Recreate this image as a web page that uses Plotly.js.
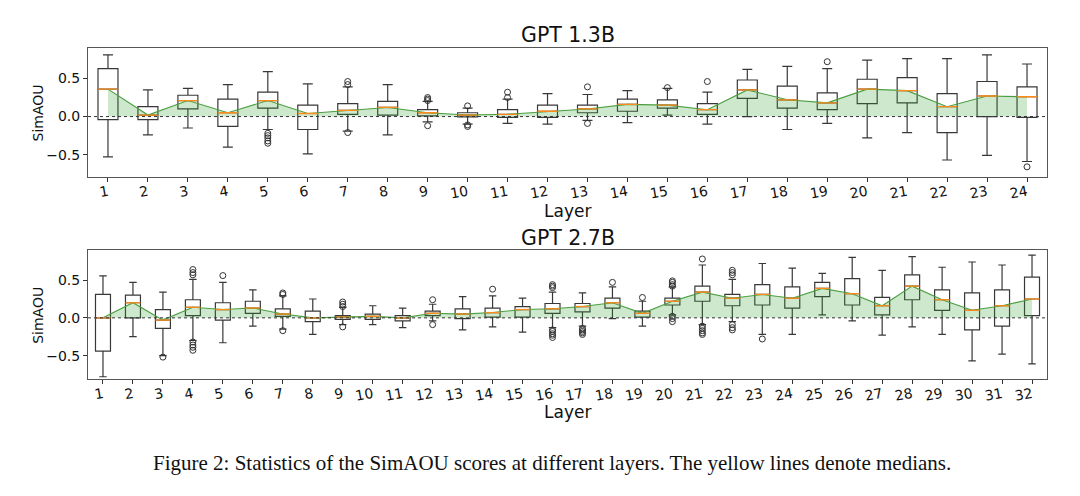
<!DOCTYPE html>
<html>
<head>
<meta charset="utf-8">
<script src="https://cdn.plot.ly/plotly-3.0.1.min.js"></script>
<style>
html,body{margin:0;padding:0;background:#fff;}
#chart{width:1080px;height:496px;}
</style>
</head>
<body>
<div id="chart"></div>
<script>
// ---------- GPT 1.3B (24 layers) ----------
const topLayers = [1,2,3,4,5,6,7,8,9,10,11,12,13,14,15,16,17,18,19,20,21,22,23,24];
const topLow  = [-0.53,-0.24,-0.15,-0.40,-0.17,-0.49,-0.19,-0.24,-0.07,-0.10,-0.09,-0.10,-0.05,-0.08,0.02,-0.10,0.00,-0.17,-0.09,-0.28,-0.21,-0.57,-0.51,-0.59];
const topQ1   = [-0.04,-0.04,0.10,-0.13,0.11,-0.17,0.03,0.02,0.01,-0.005,-0.01,-0.01,0.05,0.07,0.11,0.03,0.24,0.11,0.09,0.17,0.18,-0.21,0.00,-0.01];
const topMed  = [0.36,0.02,0.21,0.05,0.21,0.04,0.08,0.12,0.05,0.02,0.03,0.07,0.10,0.16,0.15,0.09,0.35,0.22,0.18,0.36,0.34,0.13,0.27,0.26];
const topQ3   = [0.63,0.13,0.28,0.23,0.32,0.15,0.17,0.20,0.09,0.05,0.09,0.15,0.15,0.23,0.22,0.17,0.48,0.40,0.31,0.49,0.51,0.30,0.46,0.39];
const topHigh = [0.81,0.35,0.37,0.42,0.59,0.43,0.39,0.42,0.20,0.11,0.23,0.30,0.29,0.34,0.37,0.32,0.62,0.66,0.63,0.74,0.76,0.76,0.81,0.69];
const topOutX = [5,5,5,5,5, 7,7,7, 9,9,9,9, 10,10,10, 11,11, 13,13, 15, 16, 19, 24];
const topOutY = [-0.22,-0.25,-0.28,-0.32,-0.35, 0.46,0.42,-0.21, 0.25,0.23,0.21,-0.12, 0.14,-0.11,-0.13, 0.32,0.25, 0.39,-0.09, 0.38, 0.46, 0.72, -0.66];
const topTickText = ["1","2","3","4","5","6","7","8","9","10","11","12","13","14","15","16","17","18","19","20","21","22","23","24"];

// ---------- GPT 2.7B (32 layers) ----------
const botLayers = [1,2,3,4,5,6,7,8,9,10,11,12,13,14,15,16,17,18,19,20,21,22,23,24,25,26,27,28,29,30,31,32];
const botLow  = [-0.78,-0.25,-0.50,-0.30,-0.33,-0.11,-0.15,-0.22,-0.09,-0.09,-0.13,-0.04,-0.16,-0.12,-0.19,-0.13,-0.11,-0.01,-0.11,0.04,-0.09,-0.05,-0.22,-0.22,0.04,-0.04,-0.23,-0.12,-0.22,-0.57,-0.48,-0.61];
const botQ1   = [-0.44,0.00,-0.14,0.03,-0.03,0.06,0.02,-0.05,-0.02,-0.02,-0.04,0.03,-0.01,0.01,0.01,0.06,0.08,0.13,0.01,0.17,0.22,0.16,0.17,0.13,0.28,0.17,0.04,0.24,0.10,-0.16,-0.11,0.03];
const botMed  = [0.00,0.20,-0.03,0.14,0.11,0.13,0.05,0.00,0.01,0.02,0.00,0.06,0.05,0.07,0.11,0.12,0.15,0.20,0.06,0.22,0.34,0.26,0.31,0.26,0.39,0.32,0.16,0.42,0.24,0.10,0.16,0.25];
const botQ3   = [0.31,0.30,0.11,0.24,0.20,0.22,0.12,0.09,0.03,0.05,0.03,0.09,0.12,0.13,0.15,0.19,0.19,0.26,0.09,0.26,0.42,0.31,0.44,0.41,0.47,0.52,0.27,0.57,0.37,0.33,0.37,0.54];
const botHigh = [0.555,0.47,0.34,0.51,0.47,0.37,0.29,0.25,0.14,0.16,0.13,0.18,0.28,0.29,0.26,0.34,0.33,0.41,0.22,0.41,0.70,0.51,0.72,0.66,0.59,0.80,0.63,0.81,0.67,0.74,0.70,0.83];
const botOutX = [3, 4,4,4,4,4,4,4, 5, 7,7,7, 9,9,9,9, 12,12, 14, 16,16,16,16,16,16,16,16, 17,17,17,17,17, 18, 19, 20,20,20,20,20,20,20, 21,21,21,21,21,21, 22,22,22,22,22,22, 23];
const botOutY = [-0.52, 0.64,0.60,0.57,-0.32,-0.36,-0.39,-0.43, 0.56, 0.33,0.31,-0.17, 0.21,0.18,0.15,-0.12, 0.24,-0.09, 0.38, 0.44,0.42,0.40,-0.16,-0.18,-0.21,-0.23,-0.26, -0.14,-0.16,-0.18,-0.20,-0.22, 0.47, 0.27, 0.49,0.47,0.44,0.42,0.02,-0.01,-0.05, 0.78,-0.11,-0.14,-0.17,-0.20,-0.22, 0.63,0.60,0.57,-0.09,-0.13,-0.16, -0.28];
const botTickText = botLayers.map(String);

const yTickVals = [-0.5, 0, 0.5];
const yTickText = ["\u22120.5", "0.0", "0.5"];

const panelTitles = ["GPT 1.3B", "GPT 2.7B"];
const xLabel = "Layer";
const yLabel = "SimAOU";
const caption = "Figure 2: Statistics of the SimAOU scores at different layers. The yellow lines denote medians.";

// ---------- build ----------
const BOXW = 0.5;
function medianSegments(xs, meds) {
  const x = [], y = [];
  xs.forEach((v, i) => { x.push(v - BOXW / 2, v + BOXW / 2, null); y.push(meds[i], meds[i], null); });
  return {x, y};
}
function panelTraces(xs, lo, q1, med, q3, hi, ox, oy, xa, ya) {
  const seg = medianSegments(xs, med);
  return [
    {type: 'scatter', mode: 'lines', x: xs, y: med, xaxis: xa, yaxis: ya,
     fill: 'tozeroy', fillcolor: 'rgba(44,160,44,0.24)',
     line: {color: '#4a9e3f', width: 1.1}, hoverinfo: 'skip', showlegend: false},
    {type: 'box', x: xs, q1: q1, median: med, q3: q3, lowerfence: lo, upperfence: hi,
     xaxis: xa, yaxis: ya, width: BOXW, whiskerwidth: 0.5, boxpoints: false,
     fillcolor: 'rgba(0,0,0,0)', line: {color: '#383838', width: 1.2}, showlegend: false},
    {type: 'scatter', mode: 'lines', x: seg.x, y: seg.y, xaxis: xa, yaxis: ya,
     line: {color: '#ff8c1a', width: 1.3}, hoverinfo: 'skip', showlegend: false, connectgaps: false},
    {type: 'scatter', mode: 'markers', x: ox, y: oy, xaxis: xa, yaxis: ya,
     marker: {symbol: 'circle-open', size: 6, color: '#333', line: {width: 1, color: '#333'}},
     hoverinfo: 'skip', showlegend: false}
  ];
}

const data = [].concat(
  panelTraces(topLayers, topLow, topQ1, topMed, topQ3, topHigh, topOutX, topOutY, 'x', 'y'),
  panelTraces(botLayers, botLow, botQ1, botMed, botQ3, botHigh, botOutX, botOutY, 'x2', 'y2')
);

const axisCommon = {
  showgrid: false, zeroline: false, showline: true, mirror: true,
  linecolor: '#555', linewidth: 1, ticks: 'outside', ticklen: 4, tickcolor: '#333',
  tickfont: {family: 'DejaVu Sans', size: 14, color: '#111'}
};

const layout = {
  width: 1080, height: 496,
  margin: {l: 88, r: 33, t: 48, b: 117},
  paper_bgcolor: '#fff', plot_bgcolor: '#fff',
  font: {family: 'DejaVu Sans', color: '#111'},
  showlegend: false,
  xaxis: Object.assign({}, axisCommon, {domain: [0, 1], anchor: 'y', range: [0.5, 24.5],
    tickmode: 'array', tickvals: topLayers, ticktext: topTickText, tickangle: -10, ticklabelstandoff: -3}),
  yaxis: Object.assign({}, axisCommon, {domain: [0.611, 1], anchor: 'x', range: [-0.79, 0.90],
    tickmode: 'array', tickvals: yTickVals, ticktext: yTickText}),
  xaxis2: Object.assign({}, axisCommon, {domain: [0, 1], anchor: 'y2', range: [0.5, 32.5],
    tickmode: 'array', tickvals: botLayers, ticktext: botTickText, tickangle: -10, ticklabelstandoff: -3}),
  yaxis2: Object.assign({}, axisCommon, {domain: [0, 0.39], anchor: 'x2', range: [-0.81, 0.90],
    tickmode: 'array', tickvals: yTickVals, ticktext: yTickText}),
  shapes: [
    {type: 'line', xref: 'x domain', yref: 'y', x0: 0, x1: 1, y0: 0, y1: 0,
     line: {color: '#333', width: 1, dash: 'dot'}, layer: 'above'},
    {type: 'line', xref: 'x2 domain', yref: 'y2', x0: 0, x1: 1, y0: 0, y1: 0,
     line: {color: '#333', width: 1, dash: 'dot'}, layer: 'above'}
  ],
  annotations: [
    {text: panelTitles[0], xref: 'paper', yref: 'paper', x: 0.5, y: 1.0393, showarrow: false,
     xanchor: 'center', yanchor: 'middle', font: {family: 'DejaVu Sans', size: 20.5, color: '#111'}},
    {text: panelTitles[1], xref: 'paper', yref: 'paper', x: 0.5, y: 0.426, showarrow: false,
     xanchor: 'center', yanchor: 'middle', font: {family: 'DejaVu Sans', size: 20.5, color: '#111'}},
    {text: xLabel, xref: 'paper', yref: 'paper', x: 0.5, y: 0.508, showarrow: false,
     xanchor: 'center', yanchor: 'middle', font: {family: 'DejaVu Sans', size: 17, color: '#111'}},
    {text: xLabel, xref: 'paper', yref: 'paper', x: 0.5, y: -0.0988, showarrow: false,
     xanchor: 'center', yanchor: 'middle', font: {family: 'DejaVu Sans', size: 17, color: '#111'}},
    {text: yLabel, xref: 'paper', yref: 'paper', x: -0.0524, y: 0.8045, showarrow: false, textangle: -90,
     xanchor: 'center', yanchor: 'middle', font: {family: 'DejaVu Sans', size: 14, color: '#111'}},
    {text: yLabel, xref: 'paper', yref: 'paper', x: -0.0524, y: 0.193, showarrow: false, textangle: -90,
     xanchor: 'center', yanchor: 'middle', font: {family: 'DejaVu Sans', size: 14, color: '#111'}},
    {text: caption, xref: 'paper', yref: 'paper', x: 0.484, y: -0.2538, showarrow: false,
     xanchor: 'center', yanchor: 'middle', font: {family: 'Liberation Serif', size: 21, color: '#111'}}
  ]
};

Plotly.newPlot('chart', data, layout, {staticPlot: true, displayModeBar: false});
</script>
</body>
</html>
